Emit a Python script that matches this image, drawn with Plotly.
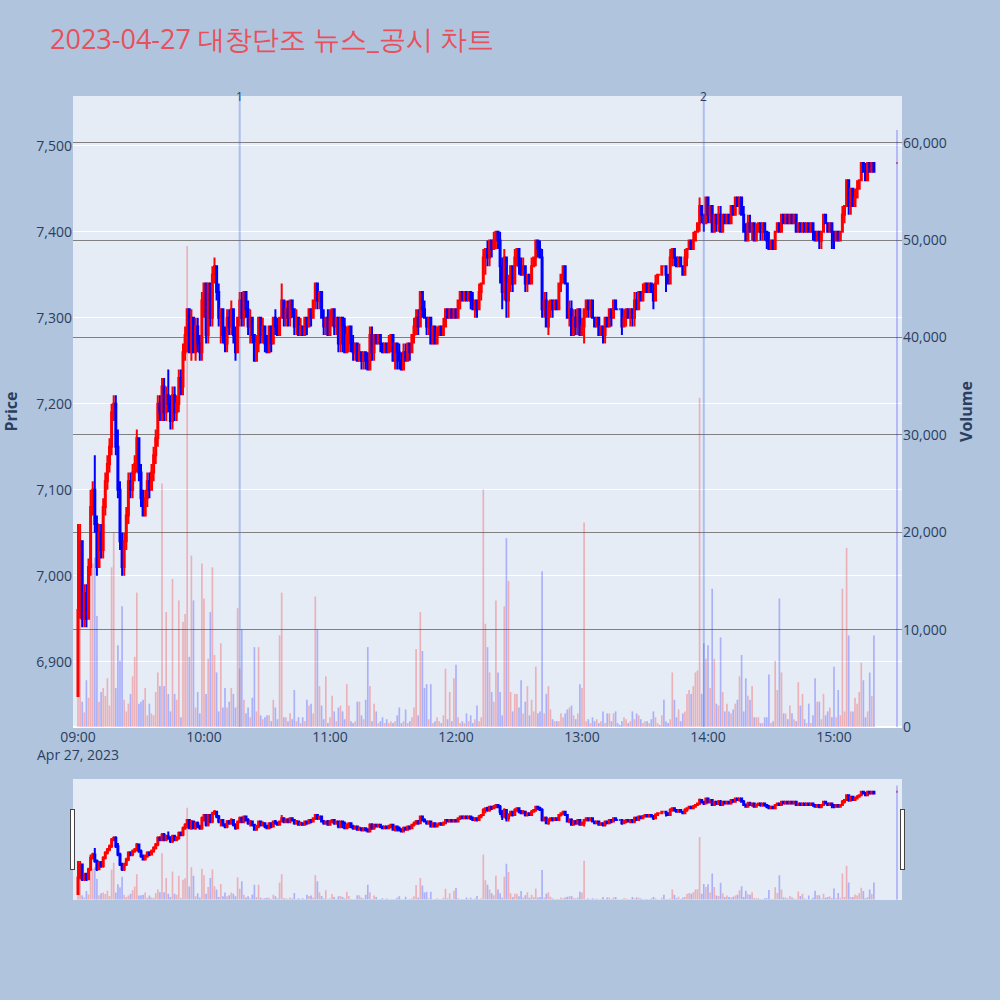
import pandas as pd
import plotly.graph_objects as go
from plotly.subplots import make_subplots

TITLE = "2023-04-27 대창단조 뉴스_공시 차트"
SESSION_START = "2023-04-27 09:00"
N_MINUTES = 380
CLOSE_AUCTION = "2023-04-27 15:30"
X_RANGE = ["2023-04-27 08:57:37", "2023-04-27 15:32:23"]
PRICE_RANGE = [6824, 7558]
VOLUME_RANGE = [0, 64800]
EVENT_TIMES = ["2023-04-27 10:17", "2023-04-27 13:58"]
EVENT_LABELS = ["1", "2"]

OPEN = [
    6860, 6960, 7040, 6950, 6980, 6950, 7010, 7080, 7100, 7060,
    7010, 7050, 7030, 7080, 7110, 7130, 7150, 7190, 7200, 7150,
    7100, 7040, 7010, 7040, 7070, 7110, 7100, 7120, 7130, 7160,
    7120, 7090, 7070, 7090, 7110, 7100, 7120, 7140, 7160, 7200,
    7190, 7220, 7190, 7210, 7200, 7180, 7210, 7190, 7200, 7230,
    7220, 7260, 7280, 7310, 7260, 7300, 7260, 7290, 7270, 7260,
    7320, 7340, 7280, 7340, 7300, 7350, 7360, 7330, 7300, 7310,
    7280, 7270, 7300, 7290, 7310, 7280, 7260, 7300, 7320, 7300,
    7330, 7310, 7290, 7300, 7280, 7250, 7270, 7300, 7280, 7290,
    7270, 7260, 7290, 7270, 7300, 7290, 7280, 7300, 7320, 7300,
    7310, 7300, 7320, 7310, 7290, 7300, 7280, 7290, 7280, 7300,
    7290, 7310, 7300, 7320, 7340, 7320, 7330, 7300, 7290, 7300,
    7280, 7300, 7310, 7290, 7300, 7270, 7300, 7290, 7260, 7280,
    7290, 7270, 7260, 7270, 7250, 7260, 7250, 7260, 7250, 7240,
    7280, 7260, 7280, 7270, 7280, 7270, 7260, 7270, 7260, 7270,
    7280, 7250, 7270, 7260, 7250, 7240, 7260, 7250, 7270, 7260,
    7280, 7290, 7300, 7290, 7330, 7310, 7300, 7290, 7300, 7270,
    7290, 7270, 7280, 7290, 7280, 7290, 7310, 7300, 7310, 7300,
    7310, 7300, 7320, 7330, 7320, 7330, 7320, 7330, 7320, 7310,
    7320, 7310, 7330, 7340, 7370, 7380, 7370, 7390, 7380, 7390,
    7400, 7390, 7360, 7330, 7370, 7320, 7340, 7360, 7340, 7370,
    7380, 7360, 7350, 7360, 7340, 7350, 7340, 7360, 7370, 7390,
    7380, 7370, 7310, 7320, 7290, 7310, 7320, 7310, 7320, 7310,
    7340, 7350, 7360, 7340, 7300, 7310, 7280, 7300, 7290, 7310,
    7280, 7290, 7310, 7320, 7310, 7320, 7300, 7290, 7300, 7280,
    7290, 7280, 7300, 7290, 7310, 7300, 7320, 7310, 7310, 7310,
    7290, 7300, 7310, 7300, 7310, 7300, 7320, 7310, 7330, 7320,
    7330, 7340, 7330, 7340, 7330, 7320, 7340, 7350, 7350, 7360,
    7360, 7350, 7340, 7370, 7380, 7370, 7360, 7370, 7360, 7350,
    7370, 7380, 7390, 7380, 7390, 7400, 7410, 7430, 7420, 7410,
    7440, 7420, 7430, 7400, 7420, 7410, 7420, 7400, 7420, 7410,
    7420, 7410, 7430, 7420, 7440, 7430, 7440, 7420, 7400, 7390,
    7410, 7400, 7410, 7390, 7400, 7410, 7400, 7410, 7400, 7390,
    7380, 7390, 7380, 7400, 7410, 7400, 7420, 7410, 7420, 7410,
    7420, 7410, 7420, 7400, 7410, 7400, 7410, 7400, 7410, 7400,
    7410, 7400, 7390, 7400, 7390, 7400, 7420, 7410, 7400, 7410,
    7400, 7390, 7400, 7390, 7400, 7420, 7430, 7460, 7430, 7450,
    7430, 7440, 7450, 7460, 7480, 7470, 7460, 7480, 7470, 7480,
    7480,
]

HIGH = [
    7060, 7060, 7040, 6990, 6990, 7020, 7100, 7110, 7140, 7070,
    7060, 7060, 7090, 7120, 7140, 7160, 7200, 7210, 7210, 7170,
    7110, 7050, 7050, 7080, 7120, 7120, 7130, 7140, 7170, 7160,
    7130, 7100, 7100, 7120, 7120, 7130, 7150, 7170, 7210, 7210,
    7230, 7230, 7220, 7240, 7210, 7220, 7220, 7210, 7240, 7240,
    7270, 7290, 7310, 7310, 7310, 7300, 7300, 7300, 7280, 7330,
    7340, 7340, 7340, 7340, 7360, 7370, 7360, 7340, 7310, 7310,
    7290, 7310, 7310, 7320, 7310, 7290, 7300, 7330, 7330, 7330,
    7330, 7320, 7310, 7300, 7280, 7280, 7300, 7300, 7300, 7290,
    7280, 7290, 7290, 7300, 7310, 7300, 7300, 7340, 7320, 7320,
    7320, 7320, 7320, 7310, 7310, 7300, 7300, 7290, 7300, 7300,
    7310, 7310, 7320, 7340, 7340, 7330, 7330, 7310, 7300, 7310,
    7310, 7310, 7310, 7300, 7300, 7300, 7300, 7300, 7290, 7290,
    7290, 7280, 7270, 7270, 7270, 7260, 7260, 7260, 7260, 7290,
    7290, 7280, 7280, 7280, 7280, 7270, 7270, 7270, 7280, 7280,
    7280, 7270, 7270, 7270, 7260, 7270, 7270, 7270, 7270, 7280,
    7300, 7310, 7310, 7330, 7330, 7320, 7300, 7300, 7300, 7290,
    7290, 7290, 7290, 7290, 7300, 7310, 7310, 7310, 7310, 7310,
    7310, 7320, 7330, 7330, 7330, 7330, 7330, 7330, 7330, 7320,
    7320, 7340, 7340, 7380, 7380, 7390, 7390, 7390, 7400, 7400,
    7400, 7400, 7370, 7380, 7370, 7350, 7360, 7360, 7380, 7380,
    7380, 7370, 7370, 7360, 7350, 7350, 7370, 7370, 7390, 7390,
    7390, 7380, 7330, 7330, 7320, 7320, 7320, 7320, 7320, 7340,
    7350, 7360, 7360, 7340, 7320, 7320, 7310, 7310, 7310, 7310,
    7300, 7310, 7320, 7320, 7320, 7320, 7300, 7300, 7300, 7290,
    7290, 7300, 7300, 7310, 7310, 7320, 7320, 7310, 7310, 7310,
    7310, 7310, 7310, 7310, 7310, 7330, 7330, 7330, 7330, 7340,
    7340, 7340, 7340, 7340, 7340, 7350, 7350, 7350, 7360, 7360,
    7360, 7350, 7380, 7380, 7380, 7370, 7370, 7370, 7360, 7380,
    7380, 7390, 7390, 7400, 7400, 7410, 7440, 7430, 7420, 7440,
    7440, 7430, 7430, 7420, 7420, 7430, 7430, 7420, 7420, 7420,
    7420, 7430, 7430, 7440, 7440, 7440, 7440, 7430, 7410, 7420,
    7420, 7410, 7410, 7410, 7410, 7410, 7410, 7410, 7400, 7400,
    7390, 7390, 7400, 7410, 7410, 7420, 7420, 7420, 7420, 7420,
    7420, 7420, 7420, 7410, 7410, 7410, 7410, 7410, 7410, 7410,
    7410, 7400, 7400, 7400, 7400, 7420, 7420, 7410, 7410, 7410,
    7400, 7400, 7400, 7400, 7430, 7430, 7460, 7460, 7450, 7450,
    7450, 7460, 7460, 7480, 7480, 7480, 7480, 7480, 7480, 7480,
    7480,
]

LOW = [
    6860, 6950, 6940, 6940, 6940, 6950, 7000, 7070, 7050, 7000,
    7010, 7020, 7020, 7070, 7100, 7120, 7140, 7180, 7140, 7090,
    7030, 7000, 7000, 7030, 7060, 7090, 7090, 7110, 7120, 7110,
    7080, 7070, 7070, 7080, 7090, 7100, 7110, 7130, 7150, 7180,
    7180, 7180, 7180, 7190, 7170, 7170, 7180, 7180, 7190, 7210,
    7210, 7250, 7260, 7260, 7250, 7260, 7250, 7260, 7250, 7250,
    7300, 7270, 7270, 7290, 7290, 7340, 7320, 7290, 7270, 7270,
    7260, 7260, 7280, 7280, 7270, 7250, 7260, 7290, 7290, 7290,
    7300, 7280, 7270, 7270, 7250, 7250, 7260, 7270, 7270, 7260,
    7260, 7260, 7260, 7270, 7280, 7280, 7280, 7300, 7290, 7290,
    7290, 7290, 7300, 7280, 7280, 7280, 7280, 7280, 7280, 7280,
    7290, 7290, 7300, 7310, 7310, 7310, 7300, 7280, 7280, 7280,
    7280, 7290, 7280, 7280, 7260, 7260, 7260, 7260, 7260, 7260,
    7260, 7250, 7250, 7250, 7250, 7240, 7240, 7240, 7240, 7240,
    7250, 7250, 7270, 7270, 7260, 7260, 7260, 7260, 7260, 7260,
    7250, 7240, 7240, 7240, 7240, 7240, 7250, 7250, 7250, 7260,
    7270, 7280, 7280, 7290, 7300, 7300, 7280, 7280, 7270, 7270,
    7270, 7270, 7280, 7280, 7280, 7290, 7300, 7300, 7300, 7300,
    7300, 7300, 7310, 7320, 7320, 7320, 7320, 7310, 7310, 7300,
    7300, 7310, 7320, 7340, 7350, 7360, 7360, 7370, 7380, 7380,
    7380, 7340, 7310, 7320, 7300, 7300, 7330, 7330, 7340, 7360,
    7350, 7350, 7350, 7330, 7330, 7340, 7340, 7360, 7360, 7370,
    7370, 7300, 7300, 7290, 7280, 7300, 7300, 7310, 7310, 7310,
    7330, 7340, 7340, 7300, 7290, 7280, 7280, 7280, 7280, 7280,
    7280, 7270, 7300, 7300, 7300, 7300, 7290, 7290, 7280, 7280,
    7270, 7270, 7290, 7290, 7290, 7300, 7310, 7310, 7310, 7280,
    7290, 7290, 7300, 7290, 7290, 7290, 7310, 7310, 7320, 7320,
    7330, 7330, 7330, 7330, 7310, 7320, 7340, 7350, 7350, 7360,
    7330, 7340, 7340, 7360, 7360, 7360, 7360, 7360, 7350, 7350,
    7360, 7380, 7380, 7380, 7390, 7400, 7400, 7410, 7400, 7410,
    7410, 7410, 7400, 7400, 7400, 7400, 7400, 7400, 7410, 7410,
    7410, 7410, 7420, 7420, 7430, 7420, 7420, 7400, 7390, 7390,
    7400, 7390, 7390, 7390, 7400, 7390, 7390, 7390, 7380, 7380,
    7380, 7380, 7380, 7400, 7400, 7400, 7410, 7410, 7410, 7410,
    7410, 7410, 7400, 7400, 7400, 7400, 7400, 7400, 7400, 7400,
    7390, 7390, 7390, 7380, 7380, 7400, 7410, 7400, 7400, 7380,
    7380, 7390, 7390, 7390, 7400, 7410, 7430, 7420, 7420, 7430,
    7430, 7440, 7450, 7460, 7470, 7460, 7460, 7470, 7470, 7470,
    7480,
]

CLOSE = [
    6960, 7040, 6950, 6980, 6950, 7010, 7080, 7100, 7060, 7010,
    7050, 7030, 7080, 7110, 7130, 7150, 7190, 7200, 7150, 7100,
    7040, 7010, 7040, 7070, 7110, 7100, 7120, 7130, 7160, 7120,
    7090, 7070, 7090, 7110, 7100, 7120, 7140, 7160, 7200, 7190,
    7220, 7190, 7210, 7200, 7180, 7210, 7190, 7200, 7230, 7220,
    7260, 7280, 7310, 7260, 7300, 7260, 7290, 7270, 7260, 7320,
    7340, 7280, 7340, 7300, 7350, 7360, 7330, 7300, 7310, 7280,
    7270, 7300, 7290, 7310, 7280, 7260, 7300, 7320, 7300, 7330,
    7310, 7290, 7300, 7280, 7250, 7270, 7300, 7280, 7290, 7270,
    7260, 7290, 7270, 7300, 7290, 7280, 7300, 7320, 7300, 7310,
    7300, 7320, 7310, 7290, 7300, 7280, 7290, 7280, 7300, 7290,
    7310, 7300, 7320, 7340, 7320, 7330, 7300, 7290, 7300, 7280,
    7300, 7310, 7290, 7300, 7270, 7300, 7290, 7260, 7280, 7290,
    7270, 7260, 7270, 7250, 7260, 7250, 7260, 7250, 7240, 7280,
    7260, 7280, 7270, 7280, 7270, 7260, 7270, 7260, 7270, 7280,
    7250, 7270, 7260, 7250, 7240, 7260, 7250, 7270, 7260, 7280,
    7290, 7300, 7290, 7330, 7310, 7300, 7290, 7300, 7270, 7290,
    7270, 7280, 7290, 7280, 7290, 7310, 7300, 7310, 7300, 7310,
    7300, 7320, 7330, 7320, 7330, 7320, 7330, 7320, 7310, 7320,
    7310, 7330, 7340, 7370, 7380, 7370, 7390, 7380, 7390, 7400,
    7390, 7360, 7330, 7370, 7320, 7340, 7360, 7340, 7370, 7380,
    7360, 7350, 7360, 7340, 7350, 7340, 7360, 7370, 7390, 7380,
    7370, 7310, 7320, 7290, 7310, 7320, 7310, 7320, 7310, 7340,
    7350, 7360, 7340, 7300, 7310, 7280, 7300, 7290, 7310, 7280,
    7290, 7310, 7320, 7310, 7320, 7300, 7290, 7300, 7280, 7290,
    7280, 7300, 7290, 7310, 7300, 7320, 7310, 7310, 7310, 7290,
    7300, 7310, 7300, 7310, 7300, 7320, 7310, 7330, 7320, 7330,
    7340, 7330, 7340, 7330, 7320, 7340, 7350, 7350, 7360, 7360,
    7350, 7340, 7370, 7380, 7370, 7360, 7370, 7360, 7350, 7370,
    7380, 7390, 7380, 7390, 7400, 7410, 7430, 7420, 7410, 7440,
    7420, 7430, 7400, 7420, 7410, 7420, 7400, 7420, 7410, 7420,
    7410, 7430, 7420, 7440, 7430, 7440, 7420, 7400, 7390, 7410,
    7400, 7410, 7390, 7400, 7410, 7400, 7410, 7400, 7390, 7380,
    7390, 7380, 7400, 7410, 7400, 7420, 7410, 7420, 7410, 7420,
    7410, 7420, 7400, 7410, 7400, 7410, 7400, 7410, 7400, 7410,
    7400, 7390, 7400, 7390, 7400, 7420, 7410, 7400, 7410, 7400,
    7390, 7400, 7390, 7400, 7420, 7430, 7460, 7430, 7450, 7430,
    7440, 7450, 7460, 7480, 7470, 7460, 7480, 7470, 7480, 7470,
    7480,
]

VOLUME = [
    19000, 18400, 2600, 1500, 4800, 3000, 16400, 16800, 17400, 11400,
    2600, 3600, 4000, 3200, 5000, 2200, 16400, 20000, 4000, 8400,
    6800, 12400, 2800, 1600, 2400, 3400, 5200, 7200, 13800, 2400,
    2600, 2800, 4000, 1200, 2400, 1400, 1200, 3600, 5600, 4200,
    25000, 4200, 11800, 3400, 1600, 15200, 3400, 2800, 13000, 1000,
    10800, 11600, 49400, 7200, 17600, 13000, 2000, 3600, 1400, 16800,
    13200, 3400, 7000, 11800, 16400, 7400, 5600, 1600, 8600, 2000,
    4000, 2000, 2600, 4000, 3400, 2000, 12200, 6000, 10000, 2800,
    1400, 2000, 1000, 3000, 8200, 1600, 8200, 1200, 800, 1000,
    1200, 1200, 600, 2800, 2000, 800, 9400, 13800, 1000, 1000,
    600, 1400, 800, 3800, 600, 1000, 400, 1000, 600, 2800,
    2200, 2400, 1400, 13400, 10000, 4200, 2200, 800, 5200, 400,
    1000, 3200, 1600, 600, 2000, 2200, 1600, 800, 4400, 2200,
    600, 400, 600, 2600, 2600, 1200, 800, 2800, 8200, 4200,
    600, 2400, 1600, 400, 600, 1000, 400, 800, 400, 600,
    400, 600, 1200, 2000, 400, 600, 1800, 400, 600, 1000,
    2000, 8000, 1200, 11800, 7800, 4000, 4400, 800, 4400, 400,
    600, 1000, 600, 400, 1200, 6000, 800, 3600, 600, 5000,
    6400, 1000, 400, 600, 400, 1400, 600, 1200, 400, 800,
    2200, 600, 1000, 24400, 10600, 8200, 5600, 3600, 2600, 13000,
    5600, 3600, 1200, 12400, 19400, 15000, 3600, 1600, 3400, 3400,
    2000, 4800, 1400, 2600, 4200, 1200, 2800, 1600, 6200, 1400,
    1600, 16000, 1400, 3400, 4200, 1800, 800, 600, 600, 600,
    1400, 1000, 1400, 1800, 2000, 2200, 1200, 800, 1400, 4400,
    4000, 21000, 600, 800, 400, 1000, 600, 800, 400, 600,
    1600, 400, 1400, 1400, 600, 1400, 1600, 400, 200, 600,
    1000, 800, 400, 600, 1600, 800, 1400, 1200, 800, 400,
    600, 600, 400, 800, 1600, 1000, 400, 200, 1200, 2800,
    600, 400, 800, 5600, 2800, 1000, 1800, 600, 1400, 1600,
    3400, 3800, 3400, 4200, 5600, 5800, 33800, 3400, 8600, 7000,
    8400, 4000, 14200, 7000, 2400, 2200, 9200, 3600, 1600, 2400,
    1600, 1400, 1800, 2400, 2800, 5200, 7400, 1600, 5000, 3200,
    2800, 4200, 1000, 1000, 1000, 400, 400, 1000, 1000, 5400,
    400, 600, 6800, 3800, 13200, 5600, 1400, 1400, 800, 2200,
    1400, 800, 600, 4600, 2200, 3400, 800, 400, 2400, 400,
    1200, 5000, 2600, 2600, 800, 3400, 1200, 1600, 2000, 1000,
    6200, 1000, 3800, 1200, 14200, 1600, 18400, 9400, 1600, 1600,
    3000, 2400, 3600, 6600, 4800, 1000, 1600, 5600, 3200, 9400,
    61300,
]

UP_COLOR = "red"
DOWN_COLOR = "blue"
UP_VOL = "rgba(255,0,0,0.25)"
DOWN_VOL = "rgba(0,0,255,0.25)"

times = list(pd.date_range(SESSION_START, periods=N_MINUTES, freq="min")) + [pd.Timestamp(CLOSE_AUCTION)]
vol_colors = [UP_VOL if c > o else DOWN_VOL for o, c in zip(OPEN, CLOSE)]

fig = make_subplots(specs=[[{"secondary_y": True}]])
fig.add_trace(
    go.Candlestick(
        x=times, open=OPEN, high=HIGH, low=LOW, close=CLOSE,
        increasing=dict(line=dict(color=UP_COLOR, width=2), fillcolor=UP_COLOR),
        decreasing=dict(line=dict(color=DOWN_COLOR, width=2), fillcolor=DOWN_COLOR),
        name="Price", showlegend=False,
    ),
    secondary_y=False,
)
fig.add_trace(
    go.Bar(x=times, y=VOLUME, marker=dict(color=vol_colors, line=dict(width=0)),
           name="Volume", showlegend=False),
    secondary_y=True,
)

for t, lab in zip(EVENT_TIMES, EVENT_LABELS):
    fig.add_shape(type="line", x0=t, x1=t, y0=0, y1=1, xref="x", yref="paper",
                  line=dict(color="rgba(65,105,225,0.35)", width=2))
    fig.add_annotation(x=t, y=1, xref="x", yref="paper", text=lab, showarrow=False,
                       yanchor="middle", font=dict(size=12, color="#2a3f5f"))

fig.update_layout(
    template="plotly",
    width=1000, height=1000,
    font=dict(size=14),
    paper_bgcolor="#B0C4DE",
    plot_bgcolor="#E5ECF6",
    title=dict(text=TITLE, x=0.05, xanchor="left", y=0.96, yanchor="middle",
               font=dict(size=27, color="#E8505B")),
    margin=dict(l=73, r=98, t=96, b=100),
    showlegend=False,
    bargap=0.2,
)
fig.update_xaxes(range=X_RANGE, domain=[0, 1], showgrid=False,
                 rangeslider=dict(visible=True, range=X_RANGE, bgcolor="#E5ECF6"))
fig.update_yaxes(title_text="<b>Price</b>", title_font=dict(size=16), range=PRICE_RANGE,
                 tickformat=",", gridcolor="white", automargin=False, secondary_y=False)
fig.update_yaxes(title_text="<b>Volume</b>", title_font=dict(size=16), range=VOLUME_RANGE,
                 tickformat=",", showgrid=True, gridcolor="grey", automargin=False,
                 secondary_y=True)

fig.write_html("out.html", config={"displayModeBar": False},
               post_script="document.body.style.margin='0';")
